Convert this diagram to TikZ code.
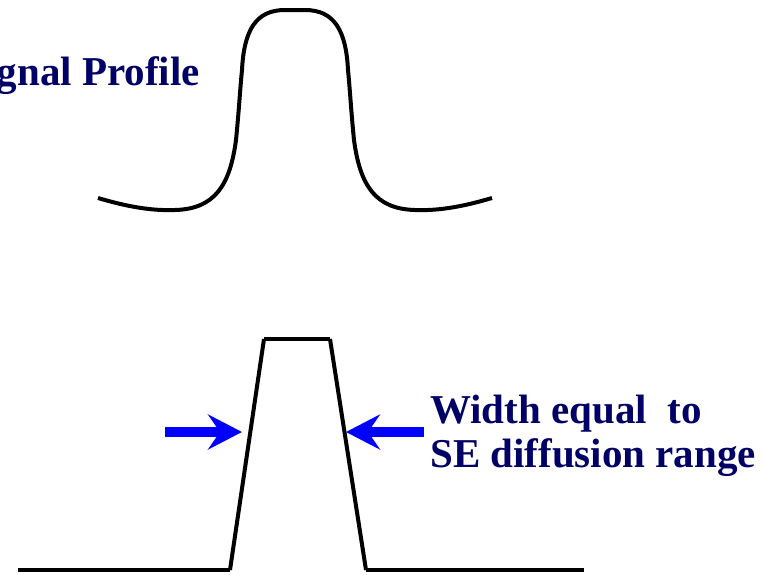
\documentclass[tikz,border=0pt]{standalone}
\usepackage{fontspec}
\setmainfont{Liberation Serif}
\usetikzlibrary{arrows.meta}
\definecolor{labelnavy}{RGB}{0,0,102}
\definecolor{arrowblue}{RGB}{0,0,255}

\begin{document}
\begin{tikzpicture}[x=1pt, y=-1pt,
    profile/.style={draw=black, line width=4pt},
    notetext/.style={text=labelnavy, font=\fontsize{41}{44}\selectfont\bfseries,
                     inner sep=0pt, align=left},
    marker/.style={draw=arrowblue, line width=10pt,
                   -{Stealth[length=34pt, width=35pt, inset=12pt]}}]
  \useasboundingbox (0,0) rectangle (763,574);
  \clip (0,0) rectangle (763,574);
  % smooth signal profile
  \draw[profile] (98,198) .. controls (125,206) and (150,211) .. (175,210)
    .. controls (215,209) and (230,185) .. (236,140)
    .. controls (239,110) and (240,90) .. (242,70)
    .. controls (244,30) and (256,10) .. (285,10)
    -- (305,10)
    .. controls (334,10) and (346,30) .. (348,70)
    .. controls (350,90) and (351,110) .. (354,140)
    .. controls (360,185) and (375,209) .. (415,210)
    .. controls (440,211) and (465,206) .. (492,198);
  \node[notetext, anchor=base east] (title) at (200,85) {Signal Profile};
  % idealised profile
  \coordinate (lend)  at (18,570);
  \coordinate (lfoot) at (230,570);
  \coordinate (ltop)  at (264,339);
  \coordinate (rtop)  at (330,339);
  \coordinate (rfoot) at (366,570);
  \coordinate (rend)  at (584,570);
  \draw[profile] (lend) -- (lfoot);
  \draw[profile] (lfoot) -- (ltop);
  \draw[profile] (ltop) -- (rtop);
  \draw[profile] (rtop) -- (rfoot);
  \draw[profile] (rfoot) -- (rend);
  % width markers
  \coordinate (ltail) at (165,432);
  \coordinate (ltip)  at (242,432);
  \coordinate (rtip)  at (346,432);
  \coordinate (rtail) at (424,432);
  \draw[marker] (ltail) -- (ltip);
  \draw[marker] (rtail) -- (rtip);
  \node[notetext, anchor=west] (width) at (430,436)
    {Width equal~\ to\\SE diffusion range};
\end{tikzpicture}
\end{document}
